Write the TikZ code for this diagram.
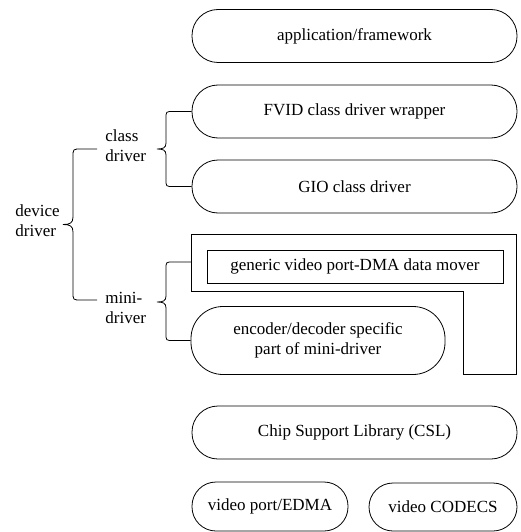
\documentclass[tikz,border=0pt]{standalone}
\usepackage{fontspec}
\setmainfont{Liberation Serif}
\newfontfamily\lserif{Liberation Serif}
\begin{document}
\begin{tikzpicture}[x=1pt,y=-1pt,line width=0.8pt,
  every node/.style={font=\lserif\fontsize{17}{20}\selectfont, inner sep=0pt},
  pill/.style={draw, rounded corners=26pt, minimum width=325pt, minimum height=53pt},
  plainbox/.style={draw, minimum width=296pt, minimum height=33pt},
  lbl/.style={align=left, anchor=west}]
\useasboundingbox (0,0) rectangle (520,532);
% boxes
\node[pill] (app) at (354.5,36) {application/framework};
\node[pill] (fvid) at (354.5,111.5) {FVID class driver wrapper};
\node[pill] (gio) at (354.5,186.5) {GIO class driver};
% L-shaped mini-driver outline
\coordinate (L1) at (191,234);
\coordinate (L2) at (516,234);
\coordinate (L3) at (516,374);
\coordinate (L4) at (463,374);
\coordinate (L5) at (463,291);
\coordinate (L6) at (191,291);
\draw (L1) -- (L2) -- (L3) -- (L4) -- (L5) -- (L6) -- cycle;
\coordinate (Lmid) at (191,262);
\node[plainbox] (dma) at (355,266.5) {generic video port-DMA data mover};
\node[pill, rounded corners=32pt, minimum width=254pt, minimum height=68pt, align=center] (enc) at (318,340.5) {encoder/decoder specific\\part of mini-driver};
\node[pill] (csl) at (354.5,432.5) {Chip Support Library (CSL)};
\node[pill, rounded corners=24pt, minimum width=156pt, minimum height=49pt] (vp) at (270,506.5) {video port/EDMA};
\node[pill, rounded corners=24pt, minimum width=148pt, minimum height=48pt] (codecs) at (443,507) {video CODECS};
% labels
\node[lbl] (cls) at (105,146) {class\\driver};
\node[lbl] (mini) at (105,307.5) {mini-\\driver};
\node[lbl] (dev) at (15,221) {device\\driver};
% class-driver brace
\draw (fvid.west) -- (173,111.5) .. controls (166,111.5) .. (166,118.5)
  -- (166,143) .. controls (166,148) and (163,149) .. (157,149)
  .. controls (163,149) and (166,150) .. (166,155)
  -- (166,179.5) .. controls (166,186.5) .. (173,186.5) -- (gio.west);
% mini-driver brace
\draw (Lmid) -- (173,262) .. controls (166,262) .. (166,269)
  -- (166,296) .. controls (166,301) and (163,302) .. (157,302)
  .. controls (163,302) and (166,303) .. (166,308)
  -- (166,333.5) .. controls (166,340.5) .. (173,340.5) -- (enc.west);
% device-driver brace
\coordinate (dtop) at (97,149);
\coordinate (dbot) at (97,300);
\draw (dtop) -- (81,149) .. controls (73,149) .. (73,157)
  -- (73,217) .. controls (73,223) and (70,224.5) .. (63,224.5)
  .. controls (70,224.5) and (73,226) .. (73,232)
  -- (73,292) .. controls (73,300) .. (81,300) -- (dbot);
\end{tikzpicture}
\end{document}
